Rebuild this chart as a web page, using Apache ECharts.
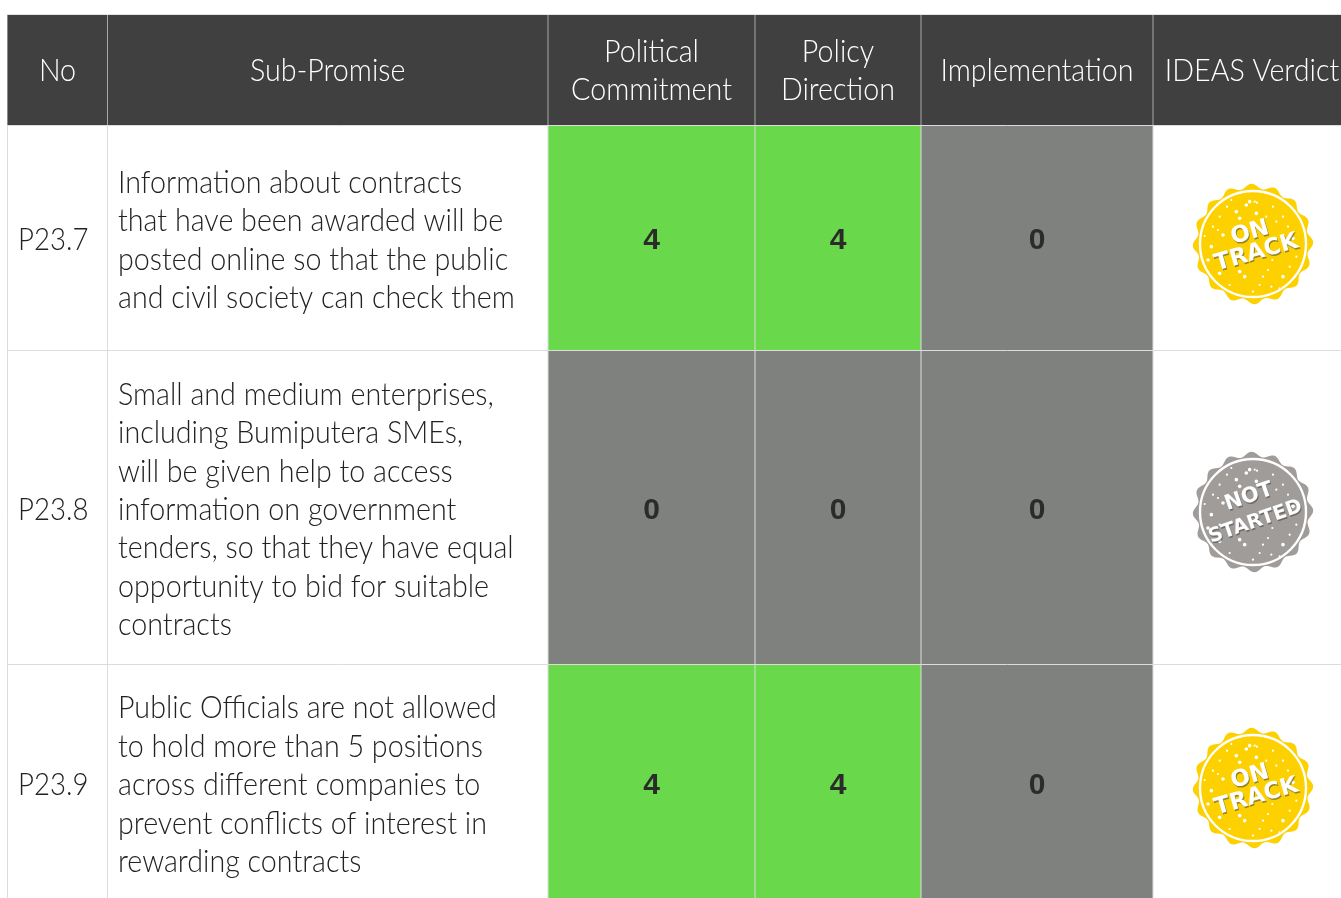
<!DOCTYPE html>
<html><head><meta charset="utf-8">
<style>html,body{margin:0;padding:0;background:#fff;overflow:hidden}#c{width:1341px;height:898px}</style>
<script src="https://cdn.jsdelivr.net/npm/echarts@6/dist/echarts.min.js"></script>
</head><body><div id="c"></div>
<script>
const headers = ['No','Sub-Promise','Political\nCommitment','Policy\nDirection','Implementation','IDEAS Verdict'];
const ids = ['P23.7','P23.8','P23.9'];
const promises = [
 'Information about contracts\nthat have been awarded will be\nposted online so that the public\nand civil society can check them',
 'Small and medium enterprises,\nincluding Bumiputera SMEs,\nwill be given help to access\ninformation on government\ntenders, so that they have equal\nopportunity to bid for suitable\ncontracts',
 'Public Officials are not allowed\nto hold more than 5 positions\nacross different companies to\nprevent conflicts of interest in\nrewarding contracts'
];
const politicalCommitment = [4,0,4];
const policyDirection = [4,0,4];
const implementation = [0,0,0];
const verdicts = ['ON\nTRACK','NOT\nSTARTED','ON\nTRACK'];

// layout of the table on the pixel-scaled axes
const colEdges = [7.5,107.5,548,755,921,1153,1341];
const rowEdges = [15,125.5,350.5,664.5,901];
const FONT = 'Lato';
const TEXT_SCALE = 0.925;
const ID_SCALE = 0.89;
const scoreColor = {4:'#6ad84b',0:'#7f817f'};
const verdictColor = {'ON\nTRACK':'#fdd000','NOT\nSTARTED':'#a09c9a'};
const speckles = [[330,125],[352,128],[262,140],[320,135],[480,150],[400,140],[350,160],[220,200],[240,170],[300,175],[410,185],[195,228],[250,225],[430,170],[445,200],[215,260],[240,290],[398,300],[300,335],[360,375],[420,385],[315,350],[385,330],[450,320],[240,340],[470,290],[380,170],[290,155],[340,395],[270,375],[430,350],[345,125],[235,210],[460,235],[370,350],[395,380],[205,300],[275,120]];

function rect(api,x0,y0,x1,y1,fill){
  const a=api.coord([x0,y0]),b=api.coord([x1,y1]);
  return {type:'rect',shape:{x:a[0],y:a[1],width:b[0]-a[0],height:b[1]-a[1]},style:{fill:fill},silent:true};
}
function line(api,x0,y0,x1,y1,color){
  const a=api.coord([x0,y0]),b=api.coord([x1,y1]);
  return {type:'line',shape:{x1:a[0],y1:a[1],x2:b[0],y2:b[1]},style:{stroke:color,lineWidth:1},silent:true};
}
function label(api,x,y,text,o,sx){
  const p=api.coord([x,y]);
  return {type:'text',x:p[0],y:p[1],scaleX:sx||1,style:Object.assign({text:text,fontFamily:FONT,fontWeight:300,fontSize:31,lineHeight:38.4,fill:'#222',align:'left',verticalAlign:'middle'},o||{}),silent:true};
}
function scallopPath(cx,cy){
  const n=16,pts=[];
  for(let i=0;i<=240;i++){const t=i/240*Math.PI*2;const r=57.8+2.4*Math.cos(n*t+0.4);pts.push((i?'L':'M')+(cx+r*Math.cos(t)).toFixed(2)+' '+(cy+r*Math.sin(t)).toFixed(2));}
  return pts.join(' ')+'Z';
}
function badge(api,cx,cy,text){
  const p=api.coord([cx,cy]),color=verdictColor[text],kids=[];
  kids.push({type:'path',shape:{pathData:scallopPath(p[0],p[1]),layout:'none'},style:{fill:color}});
  kids.push({type:'circle',shape:{cx:p[0],cy:p[1],r:53},style:{fill:'none',stroke:'#fff',lineWidth:2.4}});
  speckles.forEach((s,i)=>{
    kids.push({type:'circle',shape:{cx:p[0]+(s[0]-340)/3,cy:p[1]+(s[1]-252)/3,r:i%3===0?1.8:1.1},style:{fill:'#fff'}});
  });
  const parts=text.split('\n'),isOn=parts[0]==='ON';
  const rot=(isOn?16:19)*Math.PI/180;
  const off=isOn?[[-3,-11],[3.5,9]]:[[-4,-15],[2.5,10]];
  const sizes=isOn?[23,23]:[21,19.5];
  parts.forEach((t,i)=>{
    const x=p[0]+off[i][0],y=p[1]+off[i][1];
    const st={text:t,fontFamily:'DejaVu Sans',fontWeight:'bold',fontSize:sizes[i],align:'center',verticalAlign:'middle'};
    kids.push({type:'text',x:x+1,y:y+1.5,rotation:rot,style:Object.assign({fill:'rgba(70,70,70,.55)'},st)});
    kids.push({type:'text',x:x,y:y,rotation:rot,style:Object.assign({fill:'#fff'},st)});
  });
  return {type:'group',silent:true,children:kids};
}

const headerRow = headers.map((h,i)=>[i,h]);
const bodyRows = ids.map((id,i)=>[i]);

const option = {
  animation:false,
  backgroundColor:'#fff',
  grid:{left:0,right:0,top:0,bottom:0},
  xAxis:{type:'value',min:0,max:1341,show:false},
  yAxis:{type:'value',min:0,max:898,inverse:true,show:false},
  series:[
   {name:'Header',type:'custom',coordinateSystem:'cartesian2d',clip:false,data:headerRow,encode:{x:0},
    renderItem(params,api){
      const c=params.dataIndex,x0=colEdges[c],x1=colEdges[c+1];
      const kids=[rect(api,x0,rowEdges[0],x1,rowEdges[1],'#404040')];
      const cx=c===5?1252:(x0+x1)/2;
      kids.push(label(api,cx,(rowEdges[0]+rowEdges[1])/2+1,headers[c],{align:'center',fill:'#fff',lineHeight:38},TEXT_SCALE));
      return {type:'group',children:kids};
    }},
   {name:'Rows',type:'custom',coordinateSystem:'cartesian2d',clip:false,data:bodyRows,encode:{x:0},
    renderItem(params,api){
      const r=params.dataIndex,y0=rowEdges[r+1],y1=rowEdges[r+2],cy=(y0+y1)/2+3,kids=[];
      const scores=[politicalCommitment[r],policyDirection[r],implementation[r]];
      scores.forEach((s,i)=>{
        const x0=colEdges[i+2],x1=colEdges[i+3];
        kids.push(rect(api,x0,y0,x1,y1+6,scoreColor[s]));
      });
      scores.forEach((s,i)=>{
        const x0=colEdges[i+2],x1=colEdges[i+3];
        kids.push(label(api,(x0+x1)/2,cy,String(s),{align:'center',fontFamily:'Liberation Sans',fontWeight:'bold',fontSize:30,fill:'#2b2b2b'}));
      });
      kids.push(label(api,18,cy-0.8,ids[r],{},ID_SCALE));
      kids.push(label(api,118,cy-0.6,promises[r],{},TEXT_SCALE));
      kids.push(badge(api,1253,[244,512,788][r],verdicts[r]));
      return {type:'group',children:kids};
    }},
   {name:'Rules',type:'custom',coordinateSystem:'cartesian2d',clip:false,data:[[0]],encode:{x:0},z:5,
    renderItem(params,api){
      const kids=[];
      kids.push(line(api,7,14.5,1341,14.5,'#e2e2e2'));
      colEdges.slice(0,6).forEach(x=>{
        kids.push(line(api,x,15,x,125,x===7.5?'#8a8a8a':'#a8a8a8'));
        kids.push(line(api,x,126,x,905,'#dcdcdc'));
      });
      rowEdges.slice(1,4).forEach(y=>kids.push(line(api,7,y,1341,y,'#dcdcdc')));
      return {type:'group',children:kids};
    }}
  ]
};
const chart=echarts.init(document.getElementById('c'),null,{renderer:'canvas',width:1341,height:898});
chart.setOption(option);
</script></body></html>
